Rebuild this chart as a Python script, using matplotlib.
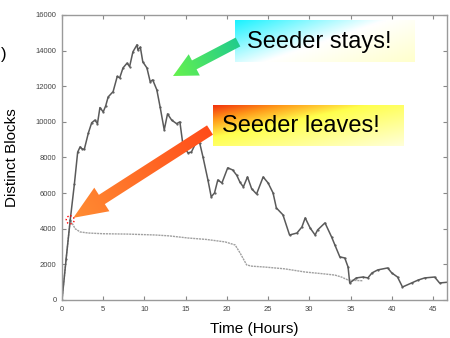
import numpy as np
import matplotlib
matplotlib.use('Agg')
import matplotlib.pyplot as plt
from matplotlib.patches import FancyArrow, Circle

plt.rcParams['font.family'] = ['Liberation Sans', 'DejaVu Sans']

# seeder stays
t_stays = [0, 0.5, 1.0, 1.5, 1.9, 2.2, 2.4, 2.7, 3.2, 3.6, 4.0, 4.3, 4.6, 5.0, 5.3, 5.6,
           6.2, 6.7, 7.0, 7.4, 7.9, 8.2, 8.6, 9.1, 9.2, 9.5, 9.8, 10.3, 10.7, 11.0, 11.5,
           11.9, 12.4, 12.8, 13.3, 13.9, 14.3, 14.7, 15.3, 15.7, 16.3, 16.7, 17.1, 17.7,
           18.1, 18.5, 18.9, 19.4, 20.1, 20.7, 21.2, 21.6, 22.0, 22.5, 23.0, 23.6, 24.4,
           25.0, 25.6, 26.0, 26.8, 27.6, 28.5, 29.1, 29.5, 30.1, 30.7, 31.0, 31.9, 32.7,
           33.1, 33.7, 34.3, 34.7, 34.9, 35.7, 36.5, 37.1, 37.6, 38.3, 39.5, 40.0, 40.7,
           41.3, 42.4, 43.2, 44.0, 45.2, 45.8, 47.0]
blocks_stays = [0, 2300, 4500, 6500, 8300, 8600, 8500, 8450, 9380, 9950, 10100, 9900, 10800,
                10560, 10900, 11400, 11700, 12550, 12470, 13030, 13300, 13100, 13930, 14330,
                14040, 14200, 13370, 13030, 12250, 12360, 11800, 10840, 9550, 10450, 10100,
                9900, 10000, 8600, 8260, 8310, 8880, 8820, 8030, 6740, 5790, 6010, 6740, 6570,
                7420, 7300, 7000, 6600, 6350, 6910, 6250, 5950, 6910, 6570, 6010, 5170, 4780,
                3650, 3760, 4100, 4610, 4040, 3650, 3930, 4330, 3540, 3090, 2420, 2360, 1850,
                955, 1240, 1290, 1240, 1520, 1690, 1800, 1520, 1290, 730, 955, 1120, 1240,
                1290, 955, 1010]

# seeder leaves
t_leaves = [0, 0.5, 1.0, 1.3, 1.6, 2.2, 3.2, 5, 8, 11.3, 13, 15.3, 17.5, 19.8, 21.0, 21.6,
            22.4, 23.0, 24.6, 27, 29.5, 31.5, 33.1, 33.9, 34.7, 35.5, 36.5]
blocks_leaves = [0, 2300, 4500, 4250, 4000, 3820, 3760, 3720, 3700, 3650, 3600, 3480, 3400,
                 3260, 3090, 2640, 1970, 1900, 1850, 1750, 1570, 1480, 1400, 1290, 1120,
                 1100, 1080]

x_ticks = [0, 5, 10, 15, 20, 25, 30, 35, 40, 45]
y_ticks = [0, 2000, 4000, 6000, 8000, 10000, 12000, 14000, 16000]

W, H = 450, 338
fig = plt.figure(figsize=(4.5, 3.38), dpi=100)
ax = fig.add_axes([62 / W, 1 - 300 / H, 385 / W, 285 / H])

ax.plot(t_leaves, blocks_leaves, color='#a0a0a0', lw=1.0, ls=(0, (1.5, 0.6)))
ax.plot(t_stays, blocks_stays, color='#5a5a5a', lw=1.1, marker='.', ms=1.2)

ax.set_xlim(0, 46.7)
ax.set_ylim(0, 16000)
ax.set_xticks(x_ticks)
ax.set_yticks(y_ticks)
ax.tick_params(direction='in', length=3, width=0.8, color='#888888', labelsize=5.5,
               labelcolor='#444444', top=True, right=True, pad=4)
for s in ax.spines.values():
    s.set_color('#9a9a9a')
    s.set_linewidth(1.0)
ax.set_xlabel('Time (Hours)', fontsize=11, labelpad=7)
ax.set_ylabel('Distinct Blocks', fontsize=11, labelpad=12)
fig.text(0.001, 0.84, ')', fontsize=12, va='center')

# overlay in pixel coordinates for the call-outs
ov = fig.add_axes([0, 0, 1, 1], zorder=5)
ov.set_xlim(0, W)
ov.set_ylim(H, 0)
ov.axis('off')
ov.patch.set_alpha(0)


def lerp_stops(s, stops):
    pos = [p for p, c in stops]
    cols = np.array([c for p, c in stops])
    out = np.zeros(s.shape + (3,))
    for k in range(3):
        out[..., k] = np.interp(s, pos, cols[:, k])
    return out


def grad_box(x0, y0, x1, y1, stops, wx=0.6):
    u, v = np.meshgrid(np.linspace(0, 1, 120), np.linspace(0, 1, 40))
    s = wx * u + (1 - wx) * v
    ov.imshow(lerp_stops(s, stops), extent=(x0, x1, y1, y0), origin='upper',
              aspect='auto', interpolation='bilinear', zorder=1)


def grad_arrow(xt, yt, xh, yh, c_tail, c_head, width=10, hw=24, hl=24):
    arr = FancyArrow(xt, yt, xh - xt, yh - yt, width=width, head_width=hw, head_length=hl,
                     length_includes_head=True, fc='none', ec='none')
    ov.add_patch(arr)
    x0, x1 = min(xt, xh) - hw, max(xt, xh) + hw
    y0, y1 = min(yt, yh) - hw, max(yt, yh) + hw
    X, Y = np.meshgrid(np.linspace(x0, x1, 150), np.linspace(y0, y1, 150))
    d = np.array([xh - xt, yh - yt])
    s = np.clip(((X - xt) * d[0] + (Y - yt) * d[1]) / (d @ d), 0, 1)
    img = lerp_stops(s, [(0, c_tail), (1, c_head)])
    im = ov.imshow(img, extent=(x0, x1, y1, y0), origin='upper', aspect='auto',
                   interpolation='bilinear', zorder=2)
    im.set_clip_path(arr)


grad_box(235, 20, 415, 62, [(0, (0.1, 0.95, 1.0)), (0.5, (1, 1, 1)), (1, (1, 1, 0.8))])
ov.text(247, 42, 'Seeder stays!', fontsize=17, va='center', ha='left', zorder=3)
grad_box(213, 105, 404, 146, [(0, (0.95, 0.2, 0.05)), (0.18, (1, 0.6, 0.1)),
                              (0.4, (1, 1, 0.3)), (1, (1, 1, 0.85))], wx=0.5)
ov.text(222, 126, 'Seeder leaves!', fontsize=17, va='center', ha='left', zorder=3)

# arrow tip at the point where the seeder leaves
px, py = ov.transData.inverted().transform(ax.transData.transform((t_leaves[2], blocks_leaves[2])))
grad_arrow(238, 42, 173, 76, (0.13, 0.8, 0.55), (0.4, 0.95, 0.3))
grad_arrow(210, 130, px + 3, py - 2, (1.0, 0.3, 0.1), (1.0, 0.55, 0.2), width=11, hw=28, hl=34)
ov.add_patch(Circle((px, py), 4, fill=False, ec='red', lw=1.0, ls=':', zorder=4))

ov.set_xlim(0, W)
ov.set_ylim(H, 0)
fig.savefig('out.png', dpi=100)
